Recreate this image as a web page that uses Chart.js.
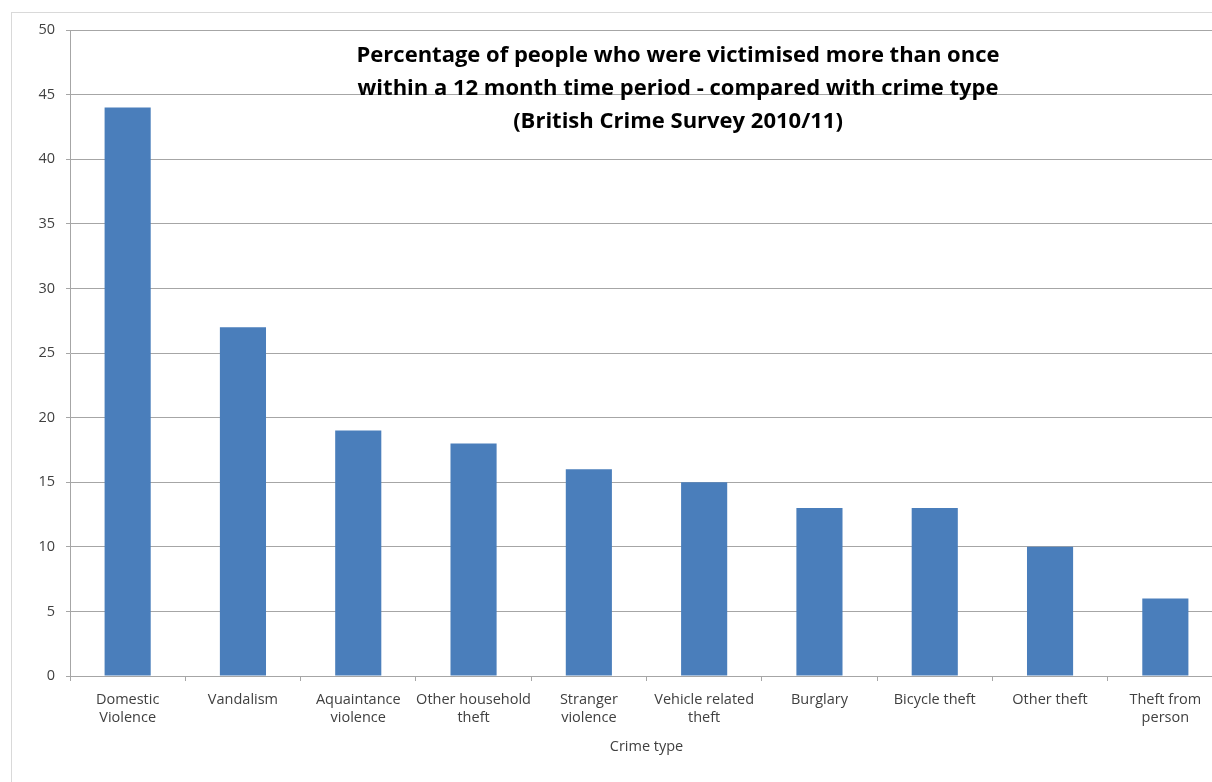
<!DOCTYPE html>
<html>
<head>
<meta charset="utf-8">
<script src="https://cdn.jsdelivr.net/npm/chart.js@4.4.1/dist/chart.umd.min.js"></script>
<style>
    body { margin: 0; background: #fff; overflow: hidden; width: 1212px; height: 782px; }
    #frame { position: absolute; left: 11px; top: 12px; width: 1300px; height: 900px; border: 1px solid #d9d9d9; }
    #wrap { position: absolute; left: 0; top: 0; width: 1223px; height: 782px; }
</style>
</head>
<body>
<div id="frame"></div>
<div id="wrap"><canvas id="crimeChart" width="1223" height="782"></canvas></div>
<script>
// data
const crimeTypes = [
    ['Domestic', 'Violence'],
    'Vandalism',
    ['Aquaintance', 'violence'],
    ['Other household', 'theft'],
    ['Stranger', 'violence'],
    ['Vehicle related', 'theft'],
    'Burglary',
    'Bicycle theft',
    'Other theft',
    ['Theft from', 'person']
]
const repeatPct = [44, 27, 19, 18, 16, 15, 13, 13, 10, 6]
const titleLines = [
    'Percentage of people who were victimised more than once',
    'within a 12 month time period - compared with crime type',
    '(British Crime Survey 2010/11)'
]
const axisTitle = 'Crime type'

const gridGray = '#a6a6a6'
const textGray = '#404040'

// title sits inside the plot area, like the original
const innerTitle = {
    id: 'innerTitle',
    afterDraw(chart) {
        const ctx = chart.ctx
        ctx.save()
        ctx.font = 'bold 22px "Open Sans"'
        ctx.fillStyle = '#000'
        ctx.textAlign = 'center'
        ctx.textBaseline = 'middle'
        titleLines.forEach((line, i) => {
            ctx.fillText(line, 678, 56 + i * 33)
        })
        ctx.restore()
    }
}

const ctx = document.getElementById('crimeChart')
new Chart(ctx, {
    type: 'bar',
    data: {
        labels: crimeTypes,
        datasets: [{
            data: repeatPct,
            backgroundColor: '#4a7ebb',
            barPercentage: 0.4,
            categoryPercentage: 1.0
        }]
    },
    options: {
        responsive: false,
        animation: false,
        layout: { padding: { top: 30, left: 0, right: 0, bottom: 0 } },
        plugins: {
            legend: { display: false },
            tooltip: { enabled: false }
        },
        scales: {
            x: {
                offset: true,
                grid: {
                    offset: true,
                    drawOnChartArea: false,
                    drawTicks: true,
                    tickLength: 5,
                    color: gridGray
                },
                border: { color: gridGray },
                ticks: {
                    color: textGray,
                    font: { family: 'Open Sans', size: 14.5, lineHeight: 1.3 },
                    maxRotation: 0,
                    autoSkip: false,
                    padding: 9
                },
                title: {
                    display: true,
                    text: axisTitle,
                    color: textGray,
                    font: { family: 'Open Sans', size: 14.5, lineHeight: 1.35 },
                    padding: { top: 0, bottom: 25 }
                },
                afterFit(scale) { scale.height = 106 }
            },
            y: {
                min: 0,
                max: 50,
                grid: {
                    color: gridGray,
                    drawTicks: true,
                    tickLength: 4
                },
                border: { color: gridGray },
                ticks: {
                    stepSize: 5,
                    color: textGray,
                    font: { family: 'Open Sans', size: 14.5 },
                    padding: 11
                },
                afterFit(scale) { scale.width = 70 }
            }
        }
    },
    plugins: [innerTitle]
})
</script>
</body>
</html>
